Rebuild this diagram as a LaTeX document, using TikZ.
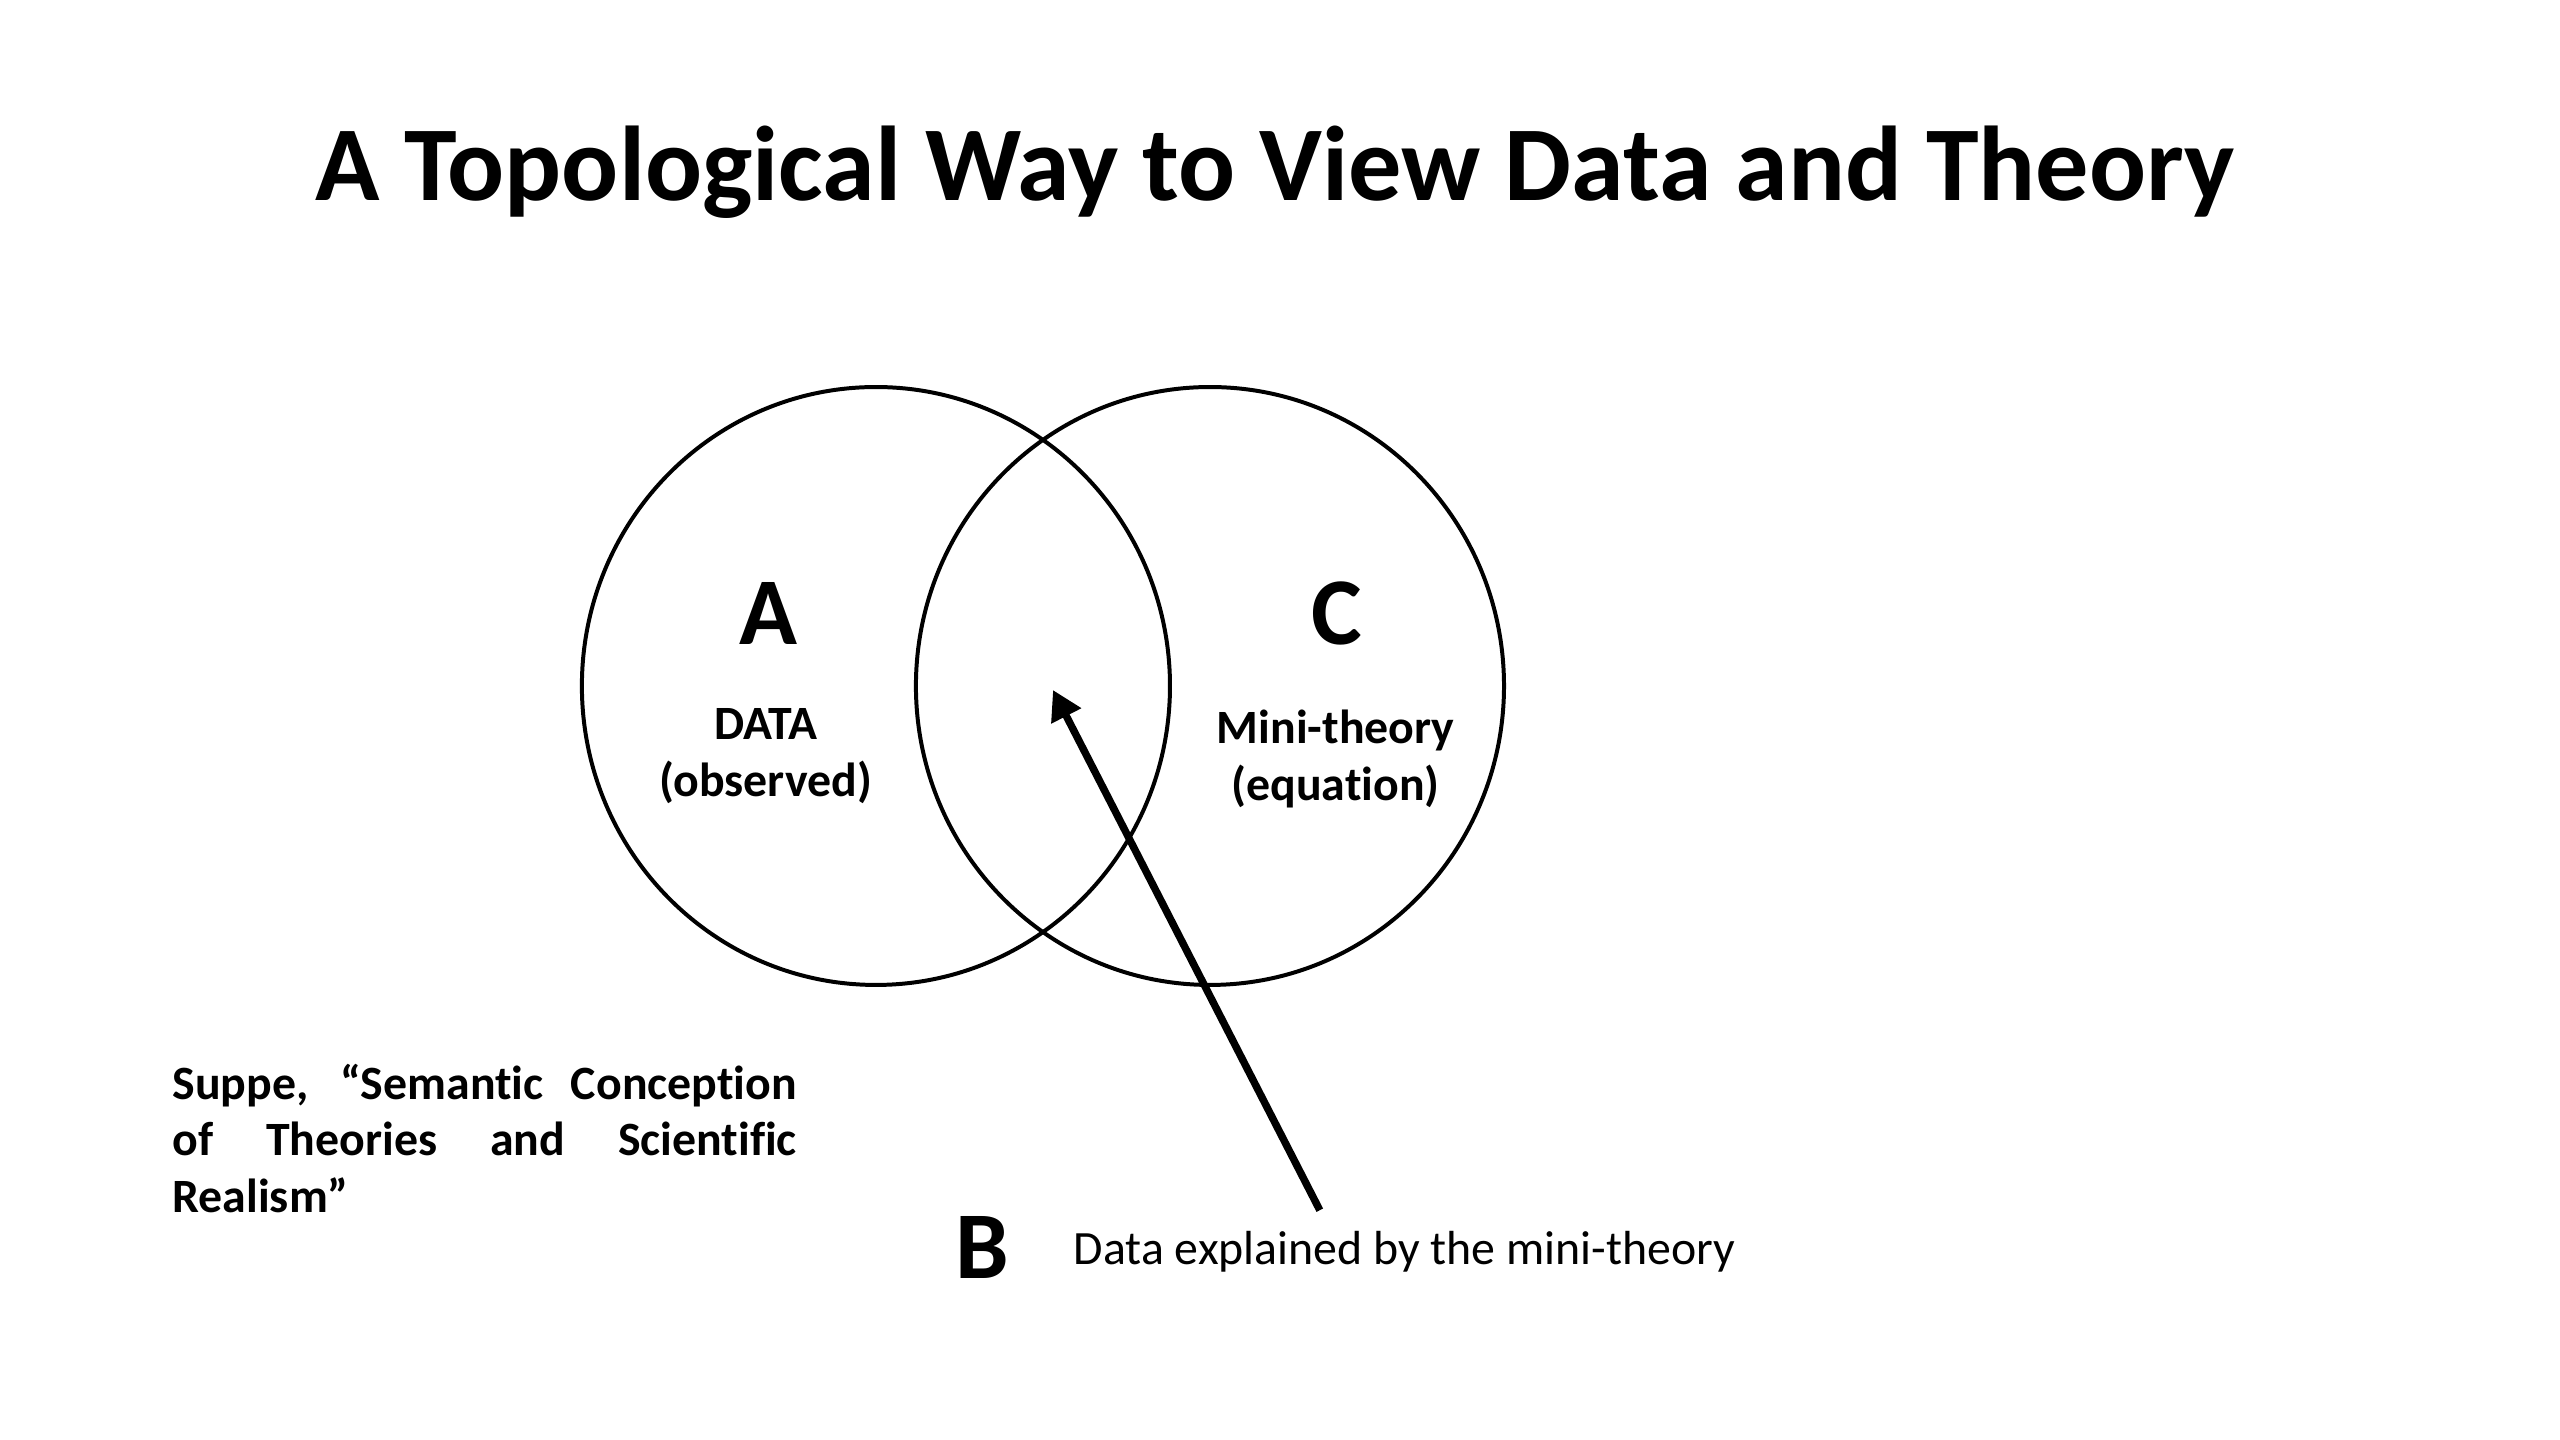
\documentclass[tikz,border=0pt]{standalone}
\usepackage{fontspec}
\setmainfont{Carlito}[Ligatures=NoCommon]
\usepackage{tikz}
\usetikzlibrary{positioning, shapes.geometric, arrows.meta}
\tikzstyle{venn}=[%
      ellipse, draw=black, line width=1.5pt, fill=none,
      minimum width=7.78cm, minimum height=7.91cm, inner sep=0pt
]
\tikzstyle{letter}=[%
      font=\fontsize{36}{43}\selectfont\bfseries, inner sep=0pt, anchor=base
]
\tikzstyle{caption}=[%
      font=\fontsize{18}{21.4}\selectfont\bfseries, inner sep=0pt, align=center, anchor=base
]
\tikzstyle{note}=[%
      font=\fontsize{18}{21.4}\selectfont, inner sep=0pt, anchor=base west
]

\begin{document}
\begin{tikzpicture}[
    -{Triangle[length=11pt,width=12pt]}
  ]
    \useasboundingbox (0,0) rectangle (33.867,-19.05);
    \node[font=\fontsize{40}{48}\selectfont\bfseries, inner sep=0pt, anchor=base]
          (title) at (16.87,-2.65) {A Topological Way to View Data and Theory};

    \node[venn] (data)   at (11.588,-9.075) {};
    \node[venn] (theory) at (16.007,-9.075) {};

    \node[letter]  (A)    at (10.16,-8.52) {A};
    \node[letter]  (C)    at (17.69,-8.52) {C};
    % base of a two-line node sits on its last line
    \node[caption] (obs)  at (10.13,-10.54) {DATA\\(observed)};
    \node[caption] (eqn)  at (17.67,-10.59) {Mini-theory\\(equation)};

    \node[letter] (B)       at (13.0,-16.92) {B};
    \node[note]   (explain) at (14.20,-16.73) {Data explained by the mini-theory};

    \node[note, font=\fontsize{18}{21.4}\selectfont\bfseries, text width=8.26cm, align=justify]
          (suppe) at (2.275,-14.54)
          {Suppe, “Semantic Conception\linebreak
           of Theories and Scientific\linebreak
           Realism”};

    \coordinate (overlap) at (13.93,-9.128);
    \coordinate (pointer) at (17.46,-16.01);
    \draw[line width=2.8pt] (pointer) -- (overlap);

  \end{tikzpicture}
\end{document}
